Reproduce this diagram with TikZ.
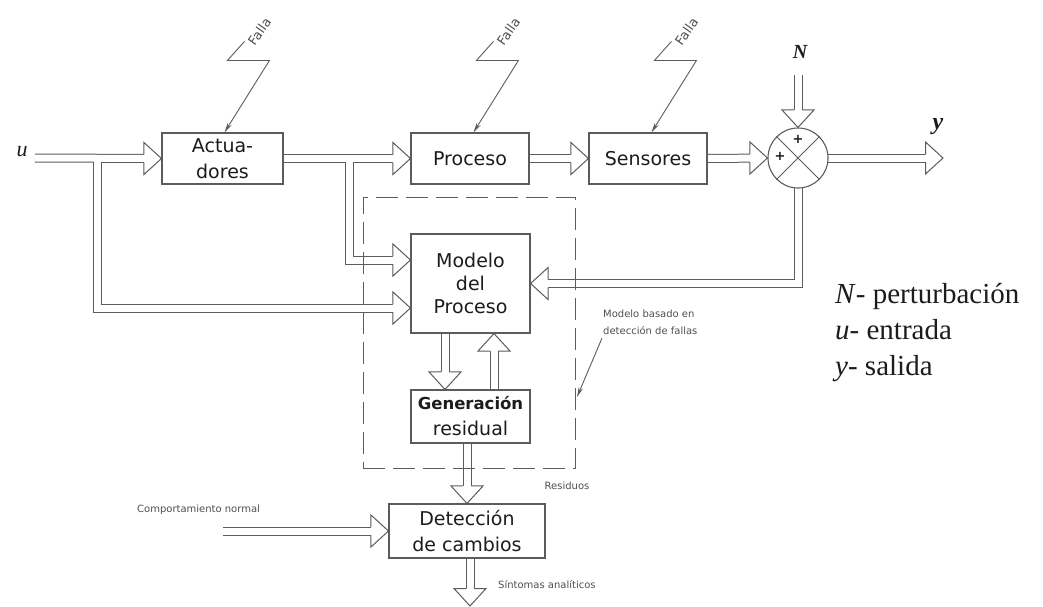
\documentclass[tikz,border=0pt]{standalone}
\usepackage{fontspec}
\setmainfont{DejaVu Sans}
\newfontfamily\legfont{Liberation Serif}
\usetikzlibrary{arrows.meta,calc}
\definecolor{linec}{HTML}{5C5C5C}
\definecolor{txt}{HTML}{1C1C1C}
\definecolor{small}{HTML}{505050}
\pgfdeclarelayer{bg}
\pgfsetlayers{bg,main}
\newcommand\bxf{\fontsize{19}{26}\selectfont}
\newcommand\mdf{\fontsize{19}{23}\selectfont}
\newcommand\smf{\fontsize{10}{17}\selectfont}
\newcommand\fallatext{\fontsize{13}{14}\selectfont}
\tikzset{pics/hd/.style={code={\filldraw[fill=white,draw=linec,line width=1pt,line join=miter] (-17.5,-4) -- (-17.5,-16) -- (0,0) -- (-17.5,16) -- (-17.5,4);}}}
\newcommand\fallaon[1]{%
  \coordinate (#1-t) at ([xshift=63pt]#1.north west);
  \coordinate (#1-r) at ($(#1-t)+(45,-72)$);
  \coordinate (#1-l) at ($(#1-t)+(3,-72)$);
  \coordinate (#1-s) at ($(#1-t)+(20,-91)$);
  \draw[falla,-{Stealth[length=10pt,width=4.5pt]}] (#1-s) -- (#1-l) -- (#1-r) -- (#1-t);
  \node[rotate=55,font=\fallatext,text=small,inner sep=0pt] (#1-lbl) at ($(#1-t)+(35,-101)$) {Falla};
}
\begin{document}
\begin{tikzpicture}[x=1pt,y=-1pt,
  blk/.style={draw=linec,line width=1.1pt,fill=white,inner sep=0pt,align=center,text=txt},
  pipe/.style={draw=linec,line width=1pt,double=white,double distance=7pt,shorten >=17.5pt},
  falla/.style={draw=linec,line width=0.9pt},
  lbl/.style={text=small,inner sep=0pt,font=\smf}]
\useasboundingbox (0,0) rectangle (1043,606);

% blocks
\node[blk,minimum width=121pt,minimum height=51pt,font=\bxf] (act) at (222.5,158.5) {Actua-\\dores};
\node[blk,minimum width=118pt,minimum height=51pt,font=\bxf] (proc) at (470,158.5) {Proceso};
\node[blk,minimum width=118pt,minimum height=51pt,font=\bxf] (sens) at (648,158.5) {Sensores};
\node[circle,draw=linec,line width=1.1pt,fill=white,minimum size=60pt,inner sep=0pt] (sum) at (798,158) {};
\node[blk,minimum width=119pt,minimum height=99pt,font=\mdf] (modelo) at (470.5,283.5) {Modelo\\del\\Proceso};
\node[blk,minimum width=119pt,minimum height=53pt,font=\bxf] (gen) at (470.5,416.5) {{\bfseries\fontsize{16.5}{26}\selectfont Generación}\\residual};
\node[blk,minimum width=156pt,minimum height=54pt,font=\bxf] (det) at (467,531) {Detección\\de cambios};

% summing junction
\draw[linec,line width=1pt] (sum.north west) -- (sum.south east);
\draw[linec,line width=1pt] (sum.north east) -- (sum.south west);
\node[font=\bfseries\fontsize{13}{13}\selectfont,text=txt,inner sep=0pt] (p1) at (798,139) {+};
\node[font=\bfseries\fontsize{13}{13}\selectfont,text=txt,inner sep=0pt] (p2) at (780,156) {+};

% free ends
\coordinate (uin) at (35,158);
\coordinate (ubr) at (97,158);
\coordinate (abr) at (349,158);
\coordinate (ntop) at (798,75);
\coordinate (yout) at (943,158);
\coordinate (cin) at (223,531);
\coordinate (sout) at (470,606);

% pipes
\begin{pgfonlayer}{bg}
\fill[white] (0,0) rectangle (1043,606);
\draw[pipe] (ubr) |- ([yshift=-24.5pt]modelo.west);
\draw[pipe] (abr) |- ([yshift=23.5pt]modelo.west);
\draw[pipe] (uin) -- (act.west);
\draw[pipe] (act.east) -- (proc.west);
\draw[white,line width=7pt] (ubr) -- ++(0,9);
\draw[white,line width=7pt] (abr) -- ++(0,9);
\draw[pipe] (proc.east) -- (sens.west);
\draw[pipe] (sens.east) -- (sum.west);
\draw[pipe] (ntop) -- (sum.north);
\draw[pipe] (sum.center) -- (yout);
\draw[pipe] (sum.center) |- (modelo.east);
\draw[pipe] ([xshift=-25.5pt]modelo.south) -- ([xshift=-25.5pt]gen.north);
\draw[pipe] ([xshift=23.5pt]gen.north) -- ([xshift=23.5pt]modelo.south);
\draw[pipe] (gen.south -| det.north) -- (det.north);
\draw[pipe] (cin) -- (det.west);
\draw[pipe] (det.south -| sout) -- (sout);
\pic at (act.west) {hd};
\pic at (proc.west) {hd};
\pic at (sens.west) {hd};
\pic at (sum.west) {hd};
\pic[rotate=-90] at (sum.north) {hd};
\pic at (yout) {hd};
\pic at ([yshift=-24.5pt]modelo.west) {hd};
\pic at ([yshift=23.5pt]modelo.west) {hd};
\pic[rotate=180] at (modelo.east) {hd};
\pic[rotate=-90] at ([xshift=-25.5pt]gen.north) {hd};
\pic[rotate=90] at ([xshift=23.5pt]modelo.south) {hd};
\pic[rotate=-90] at (det.north) {hd};
\pic at (det.west) {hd};
\pic[rotate=-90] at (sout) {hd};
\end{pgfonlayer}

% dashed model box
\node[draw=linec,line width=1pt,dash pattern=on 22pt off 8pt,minimum width=212pt,minimum height=271pt,inner sep=0pt] (dbox) at (469,332.5) {};

% faults
\fallaon{act}
\fallaon{proc}
\fallaon{sens}

% notes
\node[lbl,align=left,anchor=north west] (note) at (603,310) {Modelo basado en\\detección de fallas};
\coordinate (nt) at (577,397);
\draw[falla,-{Stealth[length=10pt,width=4.5pt]}] ([xshift=-1pt,yshift=-3pt]note.south west) -- (nt);
\node[lbl] (res) at (567,486) {Residuos};
\node[lbl,anchor=west] (comp) at (137,510) {Comportamiento normal};
\node[lbl,anchor=west] (sint) at (498,585) {Síntomas analíticos};

% signal labels
\node[font=\legfont\itshape\fontsize{22}{22}\selectfont,text=txt,inner sep=0pt] (ulbl) at (22,152) {u};
\node[font=\legfont\bfseries\itshape\fontsize{20}{20}\selectfont,text=txt,inner sep=0pt] (nlbl) at (800,52) {N};
\node[font=\legfont\bfseries\itshape\fontsize{24}{24}\selectfont,text=txt,inner sep=0pt] (ylbl) at (938,127) {y};

% legend
\node[anchor=west,align=left,font=\legfont\fontsize{29}{36}\selectfont,text=txt,inner sep=0pt] (leg) at (835,333) {\textit{N}- perturbación\\\textit{u}- entrada\\\textit{y}- salida};
\end{tikzpicture}
\end{document}
